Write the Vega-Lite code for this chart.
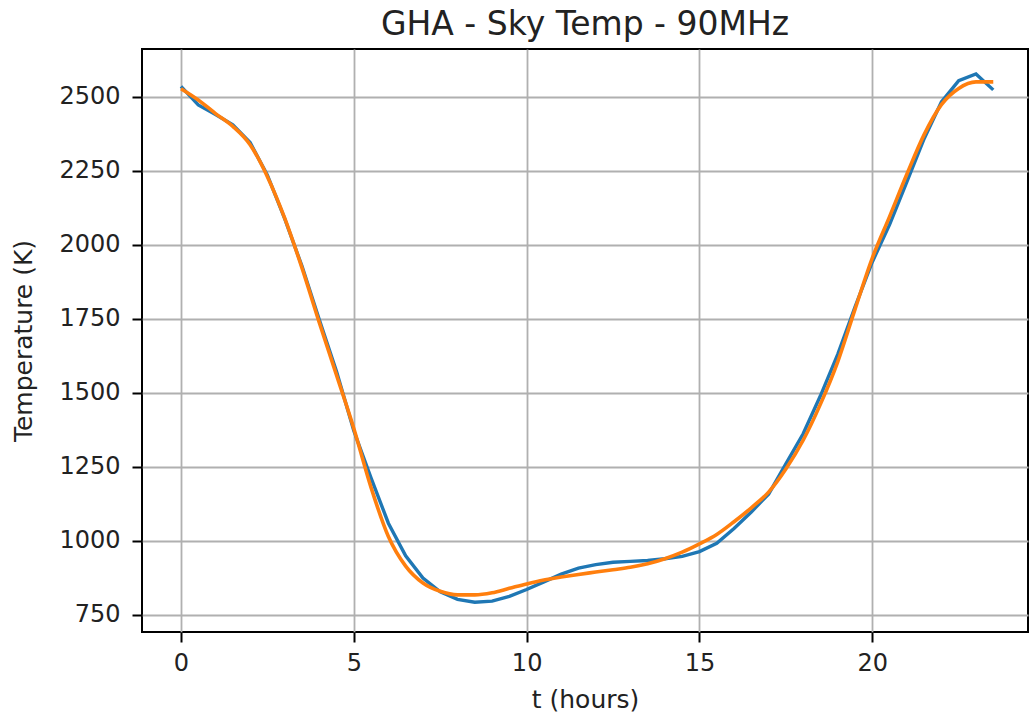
{
  "$schema": "https://vega.github.io/schema/vega-lite/v6.json",
  "autosize": "none",
  "width": 886,
  "height": 583,
  "padding": {"left": 142, "top": 49, "right": 1, "bottom": 91},
  "background": "white",
  "view": {"stroke": "black", "strokeWidth": 2},
  "config": {
    "font": "DejaVu Sans",
    "axis": {
      "labelFont": "DejaVu Sans",
      "labelFontSize": 24,
      "labelColor": "#222222",
      "titleFont": "DejaVu Sans",
      "titleFontSize": 25,
      "titleFontWeight": "normal",
      "titleColor": "#222222",
      "gridColor": "#b0b0b0",
      "gridWidth": 1.8,
      "gridOpacity": 1,
      "domain": false,
      "tickColor": "black",
      "tickSize": 10,
      "tickWidth": 2
    }
  },
  "title": {
    "text": "GHA - Sky Temp - 90MHz",
    "font": "DejaVu Sans",
    "fontSize": 33,
    "fontWeight": "normal",
    "color": "#222222",
    "anchor": "middle",
    "baseline": "alphabetic",
    "offset": 14,
    "dy": 33
  },
  "datasets": {
    "sky": [
      {"t": 0, "temp": 2535}, {"t": 0.5, "temp": 2472}, {"t": 1, "temp": 2440}, {"t": 1.5, "temp": 2405},
      {"t": 2, "temp": 2345}, {"t": 2.5, "temp": 2235}, {"t": 3, "temp": 2088}, {"t": 3.5, "temp": 1928},
      {"t": 4, "temp": 1748}, {"t": 4.5, "temp": 1572}, {"t": 5, "temp": 1372}, {"t": 5.5, "temp": 1212},
      {"t": 6, "temp": 1060}, {"t": 6.5, "temp": 950}, {"t": 7, "temp": 875}, {"t": 7.5, "temp": 828},
      {"t": 8, "temp": 803}, {"t": 8.5, "temp": 793}, {"t": 9, "temp": 797}, {"t": 9.5, "temp": 813},
      {"t": 10, "temp": 836}, {"t": 10.5, "temp": 862}, {"t": 11, "temp": 888}, {"t": 11.5, "temp": 908},
      {"t": 12, "temp": 920}, {"t": 12.5, "temp": 928}, {"t": 13, "temp": 931}, {"t": 13.5, "temp": 934},
      {"t": 14, "temp": 940}, {"t": 14.5, "temp": 948}, {"t": 15, "temp": 964}, {"t": 15.5, "temp": 992},
      {"t": 16, "temp": 1042}, {"t": 16.5, "temp": 1098}, {"t": 17, "temp": 1158}, {"t": 17.5, "temp": 1260},
      {"t": 18, "temp": 1362}, {"t": 18.5, "temp": 1490}, {"t": 19, "temp": 1630}, {"t": 19.5, "temp": 1790},
      {"t": 20, "temp": 1942}, {"t": 20.5, "temp": 2068}, {"t": 21, "temp": 2212}, {"t": 21.5, "temp": 2358},
      {"t": 22, "temp": 2482}, {"t": 22.5, "temp": 2554}, {"t": 23, "temp": 2577}, {"t": 23.5, "temp": 2523}
    ],
    "fit": [
      {"t": 0, "temp": 2527}, {"t": 0.5, "temp": 2489}, {"t": 1, "temp": 2443}, {"t": 1.5, "temp": 2400},
      {"t": 2, "temp": 2338}, {"t": 2.5, "temp": 2230}, {"t": 3, "temp": 2090}, {"t": 3.5, "temp": 1922},
      {"t": 4, "temp": 1738}, {"t": 4.5, "temp": 1560}, {"t": 5, "temp": 1380}, {"t": 5.5, "temp": 1180},
      {"t": 6, "temp": 1015}, {"t": 6.5, "temp": 915}, {"t": 7, "temp": 858}, {"t": 7.5, "temp": 830},
      {"t": 8, "temp": 818}, {"t": 8.5, "temp": 818}, {"t": 9, "temp": 825}, {"t": 9.5, "temp": 840},
      {"t": 10, "temp": 855}, {"t": 10.5, "temp": 868}, {"t": 11, "temp": 878}, {"t": 11.5, "temp": 887},
      {"t": 12, "temp": 895}, {"t": 12.5, "temp": 903}, {"t": 13, "temp": 911}, {"t": 13.5, "temp": 923},
      {"t": 14, "temp": 940}, {"t": 14.5, "temp": 962}, {"t": 15, "temp": 990}, {"t": 15.5, "temp": 1022},
      {"t": 16, "temp": 1065}, {"t": 16.5, "temp": 1112}, {"t": 17, "temp": 1165}, {"t": 17.5, "temp": 1243},
      {"t": 18, "temp": 1340}, {"t": 18.5, "temp": 1462}, {"t": 19, "temp": 1605}, {"t": 19.5, "temp": 1782},
      {"t": 20, "temp": 1955}, {"t": 20.5, "temp": 2095}, {"t": 21, "temp": 2238}, {"t": 21.5, "temp": 2372},
      {"t": 22, "temp": 2473}, {"t": 22.5, "temp": 2528}, {"t": 23, "temp": 2550}, {"t": 23.5, "temp": 2550}
    ]
  },
  "encoding": {
    "x": {
      "field": "t", "type": "quantitative",
      "scale": {"domain": [-1.128, 24.505], "nice": false, "zero": false},
      "axis": {"values": [0, 5, 10, 15, 20], "title": "t (hours)", "labelPadding": 9, "titlePadding": 12, "format": "d"}
    },
    "y": {
      "field": "temp", "type": "quantitative",
      "scale": {"domain": [692.6, 2661], "nice": false, "zero": false},
      "axis": {"values": [750, 1000, 1250, 1500, 1750, 2000, 2250, 2500], "title": "Temperature (K)", "labelPadding": 12, "titlePadding": 22, "format": "d"}
    }
  },
  "layer": [
    {"data": {"name": "sky"}, "mark": {"type": "line", "color": "#1f77b4", "strokeWidth": 3.4, "clip": true}},
    {"data": {"name": "fit"}, "mark": {"type": "line", "color": "#ff7f0e", "strokeWidth": 3.6, "interpolate": "monotone", "clip": true}}
  ]
}
